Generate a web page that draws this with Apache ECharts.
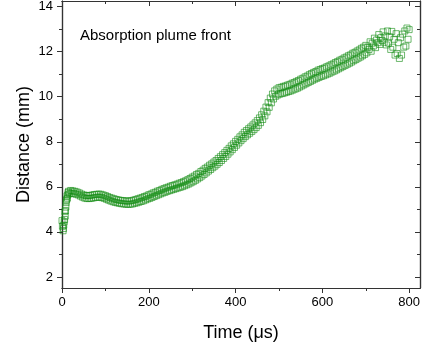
<!DOCTYPE html>
<html><head><meta charset="utf-8">
<script src="https://cdn.jsdelivr.net/npm/echarts@6/dist/echarts.min.js"></script>
<style>html,body{margin:0;padding:0;background:#fff}#c{width:425px;height:350px}</style>
</head><body><div id="c"></div>
<script>
// Upper side of the measured band
const timesA = [0,5,10,15,20,25,30,35,40,45,50,55,60,65,70,75,80,85,90,95,100,105,110,115,120,125,130,135,140,145,150,155,160,165,170,175,180,185,190,195,200,205,210,215,220,225,230,235,240,245,250,255,260,265,270,275,280,285,290,295,300,305,310,315,320,325,330,335,340,345,350,355,360,365,370,375,380,385,390,395,400,405,410,415,420,425,430,435,440,445,450,455,460,465,470,475,480,485,490,495,500,505,510,515,520,525,530,535,540,545,550,555,560,565,570,575,580,585,590,595,600,605,610,615,620,625,630,635,640,645,650,655,660,665,670,675,680,685,690,695,700,705,710,715,720,725,730,735,740,745,750,755,760,765,770,775,780,785,790,795,800];
const distA = [4.50,4.45,5.40,5.80,5.84,5.82,5.80,5.77,5.73,5.68,5.64,5.62,5.61,5.62,5.64,5.66,5.67,5.68,5.67,5.64,5.61,5.57,5.53,5.50,5.47,5.44,5.42,5.40,5.39,5.38,5.37,5.37,5.39,5.41,5.44,5.47,5.50,5.53,5.57,5.60,5.65,5.68,5.73,5.76,5.81,5.84,5.89,5.92,5.96,5.99,6.03,6.06,6.09,6.12,6.16,6.19,6.23,6.27,6.32,6.37,6.43,6.48,6.55,6.60,6.68,6.74,6.82,6.88,6.96,7.02,7.10,7.17,7.26,7.34,7.43,7.52,7.62,7.71,7.82,7.91,8.02,8.11,8.22,8.31,8.42,8.50,8.58,8.66,8.75,8.84,8.94,9.06,9.20,9.36,9.54,9.74,9.94,10.12,10.26,10.34,10.40,10.42,10.46,10.48,10.52,10.55,10.60,10.63,10.68,10.72,10.78,10.82,10.88,10.92,10.98,11.03,11.08,11.12,11.18,11.21,11.25,11.28,11.33,11.37,11.42,11.46,11.52,11.56,11.62,11.66,11.72,11.76,11.82,11.86,11.93,11.97,12.03,12.08,12.15,12.20,12.28,12.20,12.44,12.38,12.60,12.52,12.76,12.62,12.88,12.70,12.92,12.66,12.90,12.55,12.80,12.40,12.62,12.78,12.92,13.05,12.98];
// Lower side of the measured band
const timesB = [2.5,7.5,12.5,17.5,22.5,27.5,32.5,37.5,42.5,47.5,52.5,57.5,62.5,67.5,72.5,77.5,82.5,87.5,92.5,97.5,102.5,107.5,112.5,117.5,122.5,127.5,132.5,137.5,142.5,147.5,152.5,157.5,162.5,167.5,172.5,177.5,182.5,187.5,192.5,197.5,202.5,207.5,212.5,217.5,222.5,227.5,232.5,237.5,242.5,247.5,252.5,257.5,262.5,267.5,272.5,277.5,282.5,287.5,292.5,297.5,302.5,307.5,312.5,317.5,322.5,327.5,332.5,337.5,342.5,347.5,352.5,357.5,362.5,367.5,372.5,377.5,382.5,387.5,392.5,397.5,402.5,407.5,412.5,417.5,422.5,427.5,432.5,437.5,442.5,447.5,452.5,457.5,462.5,467.5,472.5,477.5,482.5,487.5,492.5,497.5,502.5,507.5,512.5,517.5,522.5,527.5,532.5,537.5,542.5,547.5,552.5,557.5,562.5,567.5,572.5,577.5,582.5,587.5,592.5,597.5,602.5,607.5,612.5,617.5,622.5,627.5,632.5,637.5,642.5,647.5,652.5,657.5,662.5,667.5,672.5,677.5,682.5,687.5,692.5,697.5,702.5,707.5,712.5,717.5,722.5,727.5,732.5,737.5,742.5,747.5,752.5,757.5,762.5,767.5,772.5,777.5,782.5,787.5,792.5,797.5];
const distB = [4.05,4.70,5.50,5.70,5.72,5.70,5.67,5.64,5.59,5.54,5.50,5.48,5.48,5.49,5.51,5.53,5.54,5.54,5.52,5.49,5.45,5.41,5.37,5.34,5.31,5.29,5.27,5.25,5.24,5.23,5.22,5.23,5.24,5.27,5.29,5.32,5.35,5.38,5.42,5.46,5.49,5.53,5.57,5.61,5.65,5.69,5.73,5.76,5.80,5.83,5.86,5.89,5.92,5.95,5.98,6.01,6.05,6.09,6.13,6.18,6.23,6.29,6.35,6.41,6.48,6.55,6.62,6.70,6.77,6.85,6.92,7.00,7.08,7.17,7.26,7.35,7.45,7.55,7.65,7.75,7.85,7.95,8.05,8.14,8.23,8.31,8.38,8.46,8.54,8.63,8.73,8.85,8.99,9.15,9.33,9.53,9.73,9.90,10.02,10.08,10.12,10.14,10.17,10.20,10.23,10.26,10.30,10.34,10.38,10.43,10.48,10.53,10.58,10.63,10.68,10.73,10.78,10.82,10.86,10.90,10.93,10.97,11.01,11.05,11.10,11.14,11.19,11.24,11.29,11.34,11.39,11.44,11.49,11.54,11.60,11.65,11.71,11.76,11.82,11.88,11.95,12.10,12.02,12.25,12.18,12.40,12.32,12.50,12.42,12.30,12.38,12.10,12.20,11.85,11.92,11.70,11.85,12.20,12.25,12.55];
// Extra samples on the steep initial rise
const timesC = [1,3.5,4,6,6.5,8,9,9.5,11,11.5,13.5,14];
const distC = [4.25,4.15,4.30,4.55,4.90,4.95,5.10,5.30,5.45,5.60,5.65,5.75];

const xMajor = [0,200,400,600,800];
const xMinor = [100,300,500,700];
const yMajor = [2,4,6,8,10,12,14];
const yMinor = [3,5,7,9,11,13];
const xTitle = 'Time (\u03bcs)';
const yTitle = 'Distance (mm)';
const note = 'Absorption plume front';

const FONT = '"Liberation Sans", Arial, sans-serif';
const AX = '#333';
const X0 = 0, X1 = 825, Y0 = 1.51, Y1 = 14.25;
const gridRect = {left: 62, right: 5, top: 1, bottom: 62};
function xAx(grid, pos, ticks, len, inside, labels, extra) {
  return Object.assign({
    type: 'value', gridIndex: grid, position: pos, min: X0, max: X1,
    axisLine: {show: true, onZero: false, lineStyle: {color: AX, width: 1.2}},
    axisTick: {show: true, inside: inside, length: len, customValues: ticks, lineStyle: {color: AX, width: 1}},
    axisLabel: labels ? {show: true, customValues: ticks, color: '#000', fontSize: 13, fontFamily: FONT, margin: 8} : {show: false},
    splitLine: {show: false}
  }, extra || {});
}
function yAx(grid, pos, ticks, len, inside, labels, extra) {
  return Object.assign({
    type: 'value', gridIndex: grid, position: pos, min: Y0, max: Y1,
    axisLine: {show: true, onZero: false, lineStyle: {color: AX, width: 1.2}},
    axisTick: {show: true, inside: inside, length: len, customValues: ticks, lineStyle: {color: AX, width: 1}},
    axisLabel: labels ? {show: true, customValues: ticks, color: '#000', fontSize: 13, fontFamily: FONT, margin: 9} : {show: false},
    splitLine: {show: false}
  }, extra || {});
}
const points = []
  .concat(timesA.map((t, i) => [t, distA[i]]))
  .concat(timesB.map((t, i) => [t, distB[i]]))
  .concat(timesC.map((t, i) => [t, distC[i]]));
const chart = echarts.init(document.getElementById('c'), null, {renderer: 'canvas'});
chart.setOption({
  animation: false,
  grid: [Object.assign({}, gridRect), Object.assign({}, gridRect)],
  xAxis: [
    xAx(0, 'bottom', xMajor, 5, false, true, {name: xTitle, nameLocation: 'middle', nameGap: 36, nameMoveOverlap: false, nameTextStyle: {fontSize: 18, fontFamily: FONT, color: '#000'}}),
    xAx(0, 'top', xMajor, 5, true, false),
    xAx(1, 'bottom', xMinor, 3, false, false),
    xAx(1, 'top', xMinor, 3, true, false)
  ],
  yAxis: [
    yAx(0, 'left', yMajor, 5, false, true, {name: yTitle, nameLocation: 'middle', nameGap: 29, nameMoveOverlap: false, nameTextStyle: {fontSize: 18, fontFamily: FONT, color: '#000'}}),
    yAx(0, 'right', yMajor, 5, true, false),
    yAx(1, 'left', yMinor, 3, false, false),
    yAx(1, 'right', yMinor, 3, true, false)
  ],
  graphic: [{type: 'text', left: 80, top: 28, style: {text: note, fontSize: 15, fontFamily: FONT, fill: '#000'}}],
  series: [{
    type: 'scatter', xAxisIndex: 0, yAxisIndex: 0,
    data: points,
    symbol: 'rect', symbolSize: 6,
    itemStyle: {color: 'rgba(0,0,0,0)', borderColor: 'rgba(20,140,20,0.85)', borderWidth: 0.9}
  }]
});
</script></body></html>
